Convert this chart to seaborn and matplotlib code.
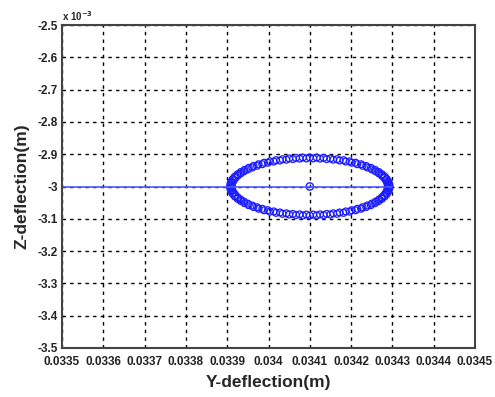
import matplotlib
matplotlib.use("Agg")
import matplotlib.pyplot as plt
import seaborn as sns
import pandas as pd

# ---- data ----
center_y = 0.0341
center_z = -0.0030
# outer ring offsets from centre (micrometres)
orbit1_dy_um = [193.0, 192.3, 190.1, 186.4, 181.4, 174.9, 167.1, 158.1, 147.8, 136.5, 124.1, 110.7,
                96.5, 81.6, 66.0, 49.9, 33.5, 16.8, 0.0, -16.8, -33.5, -49.9, -66.0, -81.6,
                -96.5, -110.7, -124.1, -136.5, -147.8, -158.1, -167.1, -174.9, -181.4, -186.4, -190.1, -192.3,
                -193.0, -192.3, -190.1, -186.4, -181.4, -174.9, -167.1, -158.1, -147.8, -136.5, -124.1, -110.7,
                -96.5, -81.6, -66.0, -49.9, -33.5, -16.8, 0.0, 16.8, 33.5, 49.9, 66.0, 81.6,
                96.5, 110.7, 124.1, 136.5, 147.8, 158.1, 167.1, 174.9, 181.4, 186.4, 190.1, 192.3]
orbit1_dz_um = [0.0, 7.8, 15.6, 23.3, 30.8, 38.0, 45.0, 51.6, 57.9, 63.6, 68.9, 73.7,
                77.9, 81.6, 84.6, 86.9, 88.6, 89.7, 90.0, 89.7, 88.6, 86.9, 84.6, 81.6,
                77.9, 73.7, 68.9, 63.6, 57.9, 51.6, 45.0, 38.0, 30.8, 23.3, 15.6, 7.8,
                0.0, -7.8, -15.6, -23.3, -30.8, -38.0, -45.0, -51.6, -57.9, -63.6, -68.9, -73.7,
                -77.9, -81.6, -84.6, -86.9, -88.6, -89.7, -90.0, -89.7, -88.6, -86.9, -84.6, -81.6,
                -77.9, -73.7, -68.9, -63.6, -57.9, -51.6, -45.0, -38.0, -30.8, -23.3, -15.6, -7.8]
# inner ring offsets from centre (micrometres)
orbit2_dy_um = [188.8, 187.4, 184.5, 180.2, 174.6, 167.6, 159.4, 150.0, 139.3, 127.7, 115.1, 101.6,
                87.3, 72.3, 56.8, 40.9, 24.7, 8.2,
                -8.2, -24.7, -40.9, -56.8, -72.3, -87.3, -101.6, -115.1, -127.7, -139.3, -150.0, -159.4,
                -167.6, -174.6, -180.2, -184.5, -187.4, -188.8,
                -188.8, -187.4, -184.5, -180.2, -174.6, -167.6, -159.4, -150.0, -139.3, -127.7, -115.1, -101.6,
                -87.3, -72.3, -56.8, -40.9, -24.7, -8.2,
                8.2, 24.7, 40.9, 56.8, 72.3, 87.3, 101.6, 115.1, 127.7, 139.3, 150.0, 159.4,
                167.6, 174.6, 180.2, 184.5, 187.4, 188.8]
orbit2_dz_um = [3.8, 11.4, 18.8, 26.2, 33.3, 40.2, 46.7, 53.0, 58.8, 64.1, 69.0, 73.4,
                77.2, 80.4, 83.0, 84.9, 86.3, 86.9,
                86.9, 86.3, 84.9, 83.0, 80.4, 77.2, 73.4, 69.0, 64.1, 58.8, 53.0, 46.7,
                40.2, 33.3, 26.2, 18.8, 11.4, 3.8,
                -3.8, -11.4, -18.8, -26.2, -33.3, -40.2, -46.7, -53.0, -58.8, -64.1, -69.0, -73.4,
                -77.2, -80.4, -83.0, -84.9, -86.3, -86.9,
                -86.9, -86.3, -84.9, -83.0, -80.4, -77.2, -73.4, -69.0, -64.1, -58.8, -53.0, -46.7,
                -40.2, -33.3, -26.2, -18.8, -11.4, -3.8]
line_y = [0.0335, 0.0343]
line_z = [-0.0030, -0.0030]

x_ticks = [0.0335, 0.0336, 0.0337, 0.0338, 0.0339, 0.0340, 0.0341, 0.0342, 0.0343, 0.0344, 0.0345]
x_tick_labels = ["0.0335", "0.0336", "0.0337", "0.0338", "0.0339", "0.034",
                 "0.0341", "0.0342", "0.0343", "0.0344", "0.0345"]
y_ticks = [-0.0025, -0.0026, -0.0027, -0.0028, -0.0029, -0.0030, -0.0031, -0.0032, -0.0033, -0.0034, -0.0035]
y_tick_labels = ["-2.5", "-2.6", "-2.7", "-2.8", "-2.9", "-3", "-3.1", "-3.2", "-3.3", "-3.4", "-3.5"]

orbit = pd.DataFrame({
    "y": [center_y + d * 1e-6 for d in orbit1_dy_um + orbit2_dy_um],
    "z": [center_z + d * 1e-6 for d in orbit1_dz_um + orbit2_dz_um],
})
line_df = pd.DataFrame({"y": line_y, "z": line_z})
centre_df = pd.DataFrame({"y": [center_y], "z": [center_z]})

sns.set_style("white")
plt.rcParams["font.family"] = ["Liberation Sans", "DejaVu Sans"]
plt.rcParams["font.weight"] = "bold"

fig = plt.figure(figsize=(4.95, 3.97), dpi=100)
ax = fig.add_axes([62/495, 1 - 348/397, (475-62)/495, (348-25)/397])

sns.lineplot(data=line_df, x="y", y="z", ax=ax, color="#4a5aff", linewidth=1.2, sort=False)
sns.scatterplot(data=orbit, x="y", y="z", ax=ax, marker="o", s=24, facecolor="none",
                edgecolor="#1a1aff", linewidth=0.9)
sns.scatterplot(data=centre_df, x="y", y="z", ax=ax, marker="o", s=28, facecolor="none",
                edgecolor="#1a1aff", linewidth=1.0)

ax.set_xlim(0.0335, 0.0345)
ax.set_ylim(-0.0035, -0.0025)
ax.set_xticks(x_ticks)
ax.set_xticklabels(x_tick_labels, fontsize=8.5, fontweight="bold")
ax.set_yticks(y_ticks)
ax.set_yticklabels(y_tick_labels, fontsize=8.5, fontweight="bold")
ax.tick_params(axis="both", direction="in", length=4, width=1, colors="#222222")
ax.tick_params(axis="x", pad=6)
ax.tick_params(axis="y", pad=3)
ax.grid(True, color="black", linestyle=(0, (2.5, 3)), linewidth=1.0)
for s in ax.spines.values():
    s.set_color("#444444")
    s.set_linewidth(1.5)

ax.set_xlabel("Y-deflection(m)", fontsize=12.5, fontweight="bold", labelpad=5)
ax.set_ylabel("Z-deflection(m)", fontsize=12.5, fontweight="bold", labelpad=6)
fig.text(62/495, 1 - 16/397, r"x 10$^{-3}$", fontsize=7, fontweight="bold", ha="left", va="center")

fig.savefig("out.png", dpi=100)
